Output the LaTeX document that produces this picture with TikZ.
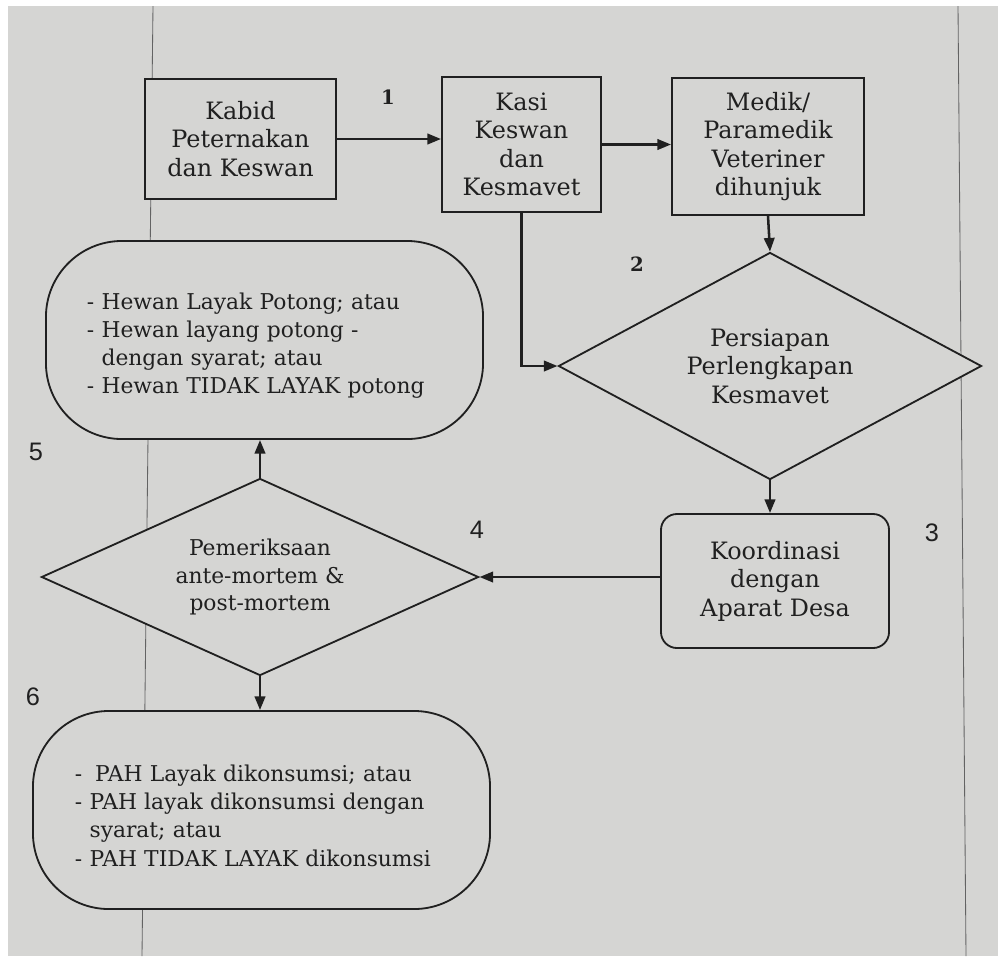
\documentclass[tikz,border=0pt]{standalone}
\usepackage{fontspec}
\setmainfont{DejaVu Serif}
\newfontfamily\numsansfont{Liberation Sans}
\usetikzlibrary{arrows.meta,shapes.geometric}
\definecolor{paper}{RGB}{213,213,211}
\definecolor{ink}{RGB}{32,32,32}
\newcommand{\pxu}{0.025cm}   % one pixel of the scan
\newcommand{\topgap}{\rule{0pt}{20pt}}

\begin{document}
\begin{tikzpicture}[x=\pxu,y=-\pxu,
    box/.style={draw=ink,fill=paper,text=ink,line width=1.3pt,inner sep=0pt,align=center,
      font=\fontsize{17}{20.3}\selectfont},
    decision/.style={box,diamond,aspect=1.9},
    listbox/.style={box,rounded corners=1.9cm,align=left,font=\fontsize{15.5}{20}\selectfont},
    numserif/.style={text=ink,font=\fontsize{14}{14}\selectfont\bfseries},
    numsans/.style={text=ink,font=\fontsize{18}{18}\selectfont\numsansfont},
    arr/.style={draw=ink,line width=1.8pt,-{Triangle[length=3.4mm,width=2.6mm]}},
    pageline/.style={draw=ink!70,line width=0.6pt}]
%
      \fill[white] (0,0) rectangle (998,956);
      \fill[paper] (8,6) rectangle (998,956);
      \useasboundingbox (0,0) rectangle (998,956);
      \draw[pageline] (153,6) -- (142,956);
      \draw[pageline] (958,6) -- (966,956);
%
      \node[box,minimum width=4.775cm,minimum height=3cm] (kabid) at (240.5,139)
            {Kabid\\Peternakan\\dan Keswan};
      \node[box,minimum width=3.975cm,minimum height=3.375cm] (kasi) at (521.5,144.5)
            {Kasi\\Keswan\\dan\\Kesmavet};
      \node[box,minimum width=4.8cm,minimum height=3.425cm] (medik) at (768,146.5)
            {Medik/\\Paramedik\\Veteriner\\dihunjuk};
      \node[decision,minimum width=10.575cm,minimum height=5.675cm] (siap) at (770,366)
            {Persiapan\\Perlengkapan\\Kesmavet};
      \node[box,rounded corners=0.4cm,minimum width=5.7cm,minimum height=3.35cm] (koord) at (775,581)
            {Koordinasi\\dengan\\Aparat Desa};
      \node[decision,font=\fontsize{15.5}{19.6}\selectfont,minimum width=10.925cm,minimum height=4.925cm]
            (periksa) at (260,577) {Pemeriksaan\\ante-mortem \&\\post-mortem};
%
      \node[listbox,text width=8.875cm,minimum width=10.925cm,minimum height=4.95cm] (hewan) at (264.5,340)
            {\topgap- Hewan Layak Potong; atau\\- Hewan layang potong -\\\hphantom{- }dengan syarat; atau\\- Hewan TIDAK LAYAK potong};
      \node[listbox,text width=9.325cm,minimum width=11.425cm,minimum height=4.95cm] (pah) at (261.5,810)
            {\topgap-\hspace{4pt} PAH Layak dikonsumsi; atau\\- PAH layak dikonsumsi dengan\\\hphantom{- }syarat; atau\\- PAH TIDAK LAYAK dikonsumsi};
%
      \node[numserif] (n1) at (388,97) {1};
      \node[numserif] (n2) at (637,264) {2};
      \node[numsans] (n3) at (932,533) {3};
      \node[numsans] (n4) at (477,530) {4};
      \node[numsans] (n5) at (36,452) {5};
      \node[numsans] (n6) at (33,697) {6};
%
      \draw[arr] (kabid.east) -- (kabid.east -| kasi.west);
      \draw[arr] (kasi.east) -- (kasi.east -| medik.west);
      \draw[arr] (medik.south) -- (siap.north);
      \draw[arr] (kasi.south) -- (kasi.south |- siap.west) -- (siap.west);
      \draw[arr] (siap.south) -- (siap.south |- koord.north);
      \draw[arr] (koord.west |- periksa.east) -- (periksa.east);
      \draw[arr] (periksa.north) -- (periksa.north |- hewan.south);
      \draw[arr] (periksa.south) -- (periksa.south |- pah.north);
    \end{tikzpicture}
\end{document}
